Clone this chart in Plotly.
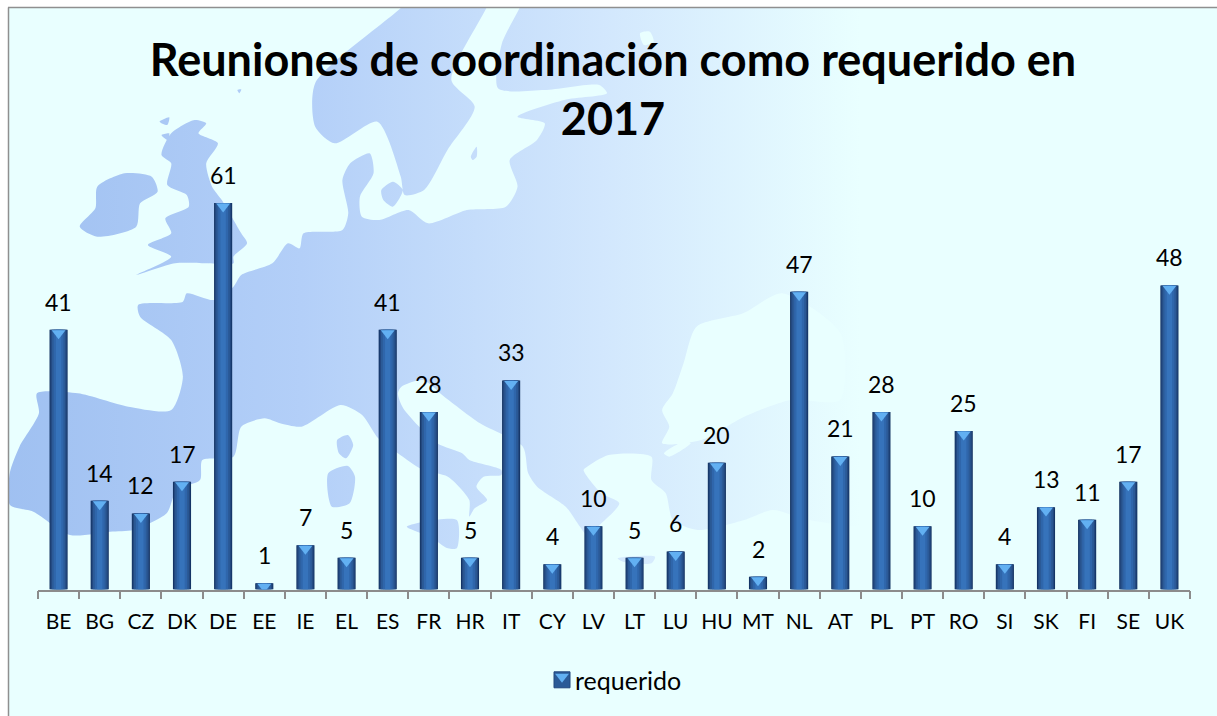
import plotly.graph_objects as go

# ---------- data ----------
countries = ["BE","BG","CZ","DK","DE","EE","IE","EL","ES","FR","HR","IT","CY","LV","LT","LU","HU","MT","NL","AT","PL","PT","RO","SI","SK","FI","SE","UK"]
requerido = [41,14,12,17,61,1,7,5,41,28,5,33,4,10,5,6,20,2,47,21,28,10,25,4,13,11,17,48]
series_name = "requerido"
title_text = "Reuniones de coordinación como requerido en<br>2017"

W, H = 1217, 716
BG = "#e9ffff"
FONT = "Lato"

# ---------- decorative map outline (page pixels) ----------
def z4(p): return [(x/2.57, y/3) for x, y in p]
def z5(p): return [(607+x/2.57, y/3) for x, y in p]
def z7(p): return [(280+x/2.8, 360+y/3) for x, y in p]
def z1(p): return [(x/3, 480+y/3) for x, y in p]

mainland = (
    z4([(25,1420),(50,1340),(100,1240),(95,1180),(200,1180),(330,1220),(440,1230),(470,1130),(440,1020),(360,950),(355,915),
        (470,905),(480,880),(550,900),(600,860),(620,825),(700,790),(740,730),(770,745),(780,700),(880,690),(895,640),(880,540),
        (900,490),(950,460),(960,520),(925,590),(930,650),(975,660),(1050,630),(1100,670),(1200,630),(1300,620),(1330,560),
        (1310,480),(1380,420),(1400,370),(1330,350),(1450,300),(1560,280),(1540,255),(1400,270),(1280,265),(1290,130),(1335,24),(1360,-60)])
    + [(900,-40),(900,520)]
    + z7([(1480,480),(1380,450),(1300,480),(1170,510),(1100,480),(1080,400),(1040,360),(1040,290),(920,285),(860,320),(850,330),
          (900,400),(950,430),(900,490),(860,525),(840,500),(800,440),(720,380),(695,340),(680,260),(560,190),(460,110),(400,60),
          (340,80),(330,100),(345,145),(440,250),(510,280),(530,300),(620,330),(620,345),(570,350),(550,380),(580,420),(545,445),
          (530,470),(530,420),(470,350),(400,330),(330,280),(275,235),(230,165),(170,135),(60,200),(0,190)])
    + z4([(680,1255),(620,1280),(600,1370),(520,1380)])
    + z1([(600,0),(530,30),(500,100),(400,150),(330,155),(210,165),(100,95),(30,75)])
)
islands = [
    z4([(1120,-80),(1030,24),(810,250),(810,380),(860,430),(970,365),(1030,530),(1040,585),(1090,570),(1150,450),(1220,320),(1160,240),(1250,24),(1290,-80)]),
    z4([(500,360),(530,370),(510,400),(560,430),(530,490),(545,560),(570,600),(620,700),(635,730),(600,770),(600,790),(530,790),
        (450,790),(350,825),(440,770),(380,735),(440,700),(425,655),(485,620),(480,585),(430,555),(440,490),(415,465),(440,400)]),
    z4([(250,560),(320,520),(390,530),(405,575),(360,610),(350,680),(250,710),(205,680),(245,625)]),
    z4([(410,365),(435,352),(430,375)]), z4([(415,405),(435,400),(430,420)]), z4([(610,270),(620,268),(615,280)]),
    z4([(980,570),(1010,545),(1035,570),(1010,620),(985,600)]),
    z4([(1210,470),(1225,440),(1225,470),(1215,480)]),
    z7([(160,240),(190,225),(205,255),(185,295),(165,280)]),
    z7([(135,340),(190,318),(210,350),(195,430),(145,440)]),
    z7([(355,500),(495,480),(495,565),(470,565),(420,530)]),
    z7([(945,595),(1050,590),(1040,610),(960,605)]),
]
waters = [
    z7([(1070,150),(1100,100),(1130,10)]) + z5([(230,980),(350,940),(450,880),(600,1000)])
    + z7([(1568,120),(1430,120),(1300,170),(1180,240),(1070,250),(1090,200)]),
    z7([(1075,280),(1130,245),(1150,250),(1090,290)]),
    z4([(1330,390),(1350,380),(1345,400)]),
    z5([(85,100),(110,95),(120,125),(95,135)]),
]

def flat(polys):
    xs, ys = [], []
    for p in polys:
        xs += [a for a, _ in p] + [p[0][0], None]
        ys += [b for _, b in p] + [p[0][1], None]
    return xs, ys

fig = go.Figure()

lx, ly = flat([mainland] + islands)
fig.add_trace(go.Scatter(
    x=lx, y=ly, mode="lines", fill="toself", line=dict(width=0, shape="spline", smoothing=0.7),
    hoverinfo="skip", showlegend=False,
    fillgradient=dict(type="horizontal", start=0, stop=860,
                      colorscale=[[0, "#9fc0f1"], [0.35, "#b3cff8"], [0.7, "#d2e7fd"], [1, BG]]),
    xaxis="x", yaxis="y"))
wx, wy = flat(waters)
fig.add_trace(go.Scatter(x=wx, y=wy, mode="lines", fill="toself", line=dict(width=0, shape="spline", smoothing=0.7),
                         fillcolor=BG, hoverinfo="skip", showlegend=False, xaxis="x", yaxis="y"))

# ---------- bars: stacked widths fake the cylinder shading ----------
layers = [(0.44, "#10305f"), (0.40, "#23487f"), (0.33, "#2b5a97"), (0.24, "#2f66ab"), (0.13, "#3673bb")]
for w, c in layers:
    fig.add_trace(go.Bar(x=countries, y=requerido, width=w, marker=dict(color=c, line=dict(width=0)),
                         showlegend=False, hoverinfo="skip", xaxis="x2", yaxis="y2"))
fig.add_trace(go.Scatter(x=countries, y=[v - 0.55 for v in requerido], mode="markers",
                         marker=dict(symbol="triangle-down", size=12, color="#62b0f2", line=dict(width=0)),
                         showlegend=False, hoverinfo="skip", xaxis="x2", yaxis="y2"))

# legend: name, swatch and swatch highlight
fig.add_trace(go.Scatter(x=[None], y=[None], mode="markers", name=series_name, legend="legend",
                         marker=dict(symbol="square", size=1, color="rgba(0,0,0,0)"),
                         xaxis="x2", yaxis="y2"))
fig.add_trace(go.Scatter(x=[None], y=[None], mode="markers", name=" ", legend="legend2",
                         marker=dict(symbol="square", size=16, color="#2b5a97", line=dict(width=1, color="#23487f")),
                         xaxis="x2", yaxis="y2"))
fig.add_trace(go.Scatter(x=[None], y=[None], mode="markers", name=" ", legend="legend3",
                         marker=dict(symbol="triangle-down", size=12, color="#62b0f2", line=dict(width=0)),
                         xaxis="x2", yaxis="y2"))

for c, v in zip(countries, requerido):
    fig.add_annotation(x=c, y=v, text=str(v), xref="x2", yref="y2", showarrow=False, yshift=28, yanchor="middle",
                       font=dict(family=FONT, size=23, color="#000000"))

leg_common = dict(xanchor="left", yanchor="middle", bgcolor="rgba(0,0,0,0)", itemwidth=30)
fig.update_layout(
    width=W, height=H,
    autosize=False,
    paper_bgcolor="#ffffff", plot_bgcolor="rgba(0,0,0,0)",
    margin=dict(l=0, r=0, t=0, b=0),
    barmode="overlay",
    font=dict(family=FONT, color="#000000"),
    title=dict(text=title_text, x=613/W, xanchor="center", y=1-76/H, yanchor="top",
               font=dict(family=FONT, size=45, color="#000000", weight="bold")),
    xaxis=dict(domain=[8/W, 1], range=[8, W], visible=False, fixedrange=True),
    yaxis=dict(domain=[0, (H-8)/H], range=[H, 8], visible=False, fixedrange=True),
    xaxis2=dict(domain=[38/W, 1190/W], anchor="y2", type="category", categoryorder="array", categoryarray=countries,
                range=[-0.5, 27.5], tickangle=0,
                tickson="boundaries", ticks="outside", ticklen=8, tickwidth=1.5, tickcolor="#8c8c8c",
                showline=True, linecolor="#8c8c8c", linewidth=1.5, showgrid=False, zeroline=False,
                ticklabelstandoff=13, tickfont=dict(family=FONT, size=21, color="#000000"), fixedrange=True),
    yaxis2=dict(domain=[(H-589.5)/H, (H-146)/H], anchor="x2", range=[0, 70], visible=False, fixedrange=True),
    legend=dict(x=535/W, y=1-680/H, font=dict(family=FONT, size=25, color="#000000"), **leg_common),
    legend2=dict(x=542/W, y=1-680/H, font=dict(family=FONT, size=22, color="#000000"), **leg_common),
    legend3=dict(x=542/W, y=1-677/H, font=dict(family=FONT, size=22, color="#000000"), **leg_common),
    shapes=[
        dict(type="rect", xref="paper", yref="paper", x0=8/W, x1=1, y0=0, y1=1-7.5/H, layer="below",
             fillcolor=BG, line=dict(width=0)),
        dict(type="line", xref="paper", yref="paper", x0=8.5/W, x1=8.5/W, y0=0, y1=1-7.5/H,
             line=dict(color="#8f8f8f", width=1.5)),
        dict(type="line", xref="paper", yref="paper", x0=8/W, x1=1, y0=1-7.5/H, y1=1-7.5/H,
             line=dict(color="#8f8f8f", width=1.5)),
    ],
)
fig.write_html("out.html", config=dict(displayModeBar=False), include_plotlyjs=True,
               post_script="document.body.style.margin='0';document.documentElement.style.overflow='hidden';")
